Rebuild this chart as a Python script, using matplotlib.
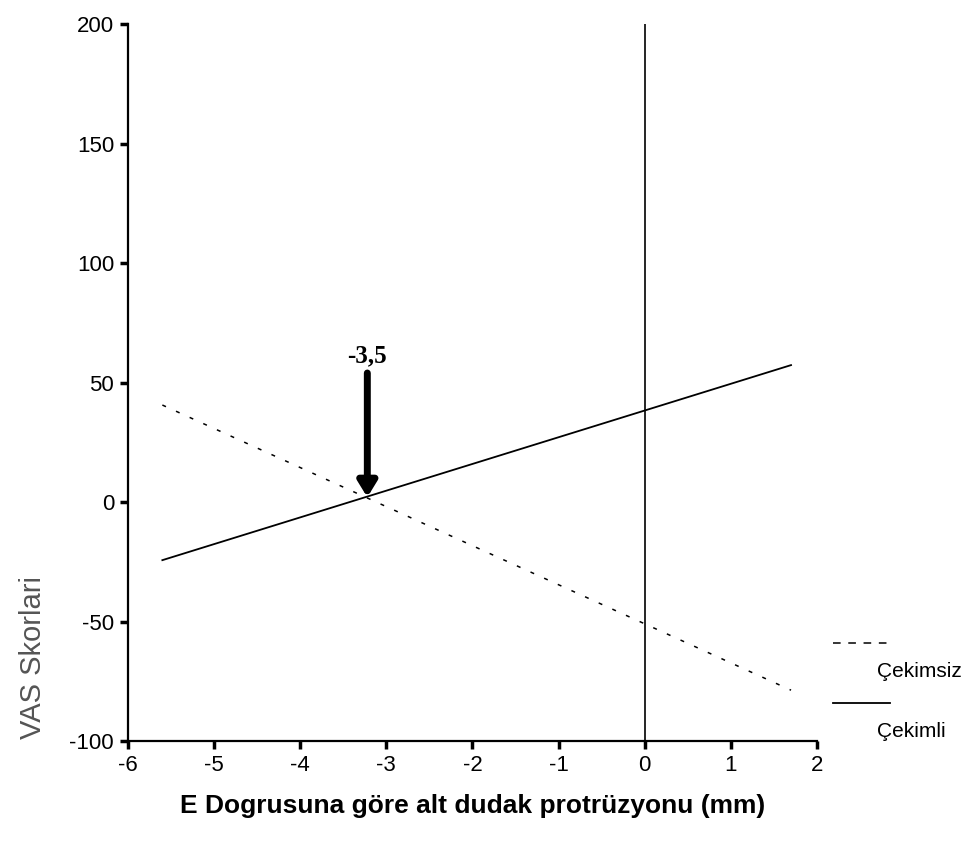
#! /usr/bin/env python3
"""
VAS scores vs lower lip protrusion relative to the E line.
"""
import matplotlib
matplotlib.use('Agg')
import matplotlib.pyplot as plt
from matplotlib.lines import Line2D

# line end points
x_range = [-5.6, 1.7]
cekimsiz = [40.6, -78.7]   # dashed
cekimli = [-24.3, 57.3]    # solid
cross_x = -3.22
cross_label = '-3,5'
arrow_top = 54
arrow_tip = 2

x_ticks = [-6, -5, -4, -3, -2, -1, 0, 1, 2]
y_ticks = [-100, -50, 0, 50, 100, 150, 200]

plt.rcParams['font.family'] = ['Liberation Sans', 'DejaVu Sans']
plt.rcParams['axes.unicode_minus'] = False

fig = plt.figure(figsize=(9.69, 8.46), dpi=100)
ax = fig.add_axes([0.132, 0.124, 0.711, 0.8476])

ax.plot(x_range, cekimsiz, color='black', lw=1.1, linestyle=(0, (2.6, 7.2)))
ax.plot(x_range, cekimli, color='black', lw=1.3)
ax.plot([0, 0], [-100, 200], color='black', lw=1.2)

ax.annotate('', xy=(cross_x, arrow_tip), xytext=(cross_x, arrow_top),
            arrowprops=dict(arrowstyle='-|>,head_width=0.55,head_length=0.9',
                            color='black', lw=5, shrinkA=0, shrinkB=0))
ax.text(cross_x, arrow_top + 2.5, cross_label, ha='center', va='bottom',
        fontsize=18, fontweight='bold', family='Liberation Serif')

ax.set_xlim(-6, 2)
ax.set_ylim(-100, 200)
ax.set_xticks(x_ticks)
ax.set_yticks(y_ticks)
ax.spines['top'].set_visible(False)
ax.spines['right'].set_visible(False)
ax.spines['left'].set_linewidth(1.6)
ax.spines['bottom'].set_linewidth(1.6)
ax.tick_params(direction='out', length=6, width=2.5, labelsize=16, pad=4)

ax.set_ylabel('VAS Skorlari', fontsize=21, color='#555555')
ax.yaxis.set_label_coords(-0.118, 0.116)
ax.set_xlabel('E Dogrusuna göre alt dudak protrüzyonu (mm)', fontsize=19,
              fontweight='bold', labelpad=13)

# legend drawn by hand: line above, label below right
fig.add_artist(Line2D([0.860, 0.918], [0.240, 0.240], color='black',
                      lw=1.1, linestyle=(0, (5, 5))))
fig.text(0.905, 0.206, 'Çekimsiz', fontsize=15, va='center', ha='left')
fig.add_artist(Line2D([0.860, 0.918], [0.169, 0.169], color='black', lw=1.3))
fig.text(0.905, 0.135, 'Çekimli', fontsize=15, va='center', ha='left')

fig.savefig('out.png', dpi=100)
